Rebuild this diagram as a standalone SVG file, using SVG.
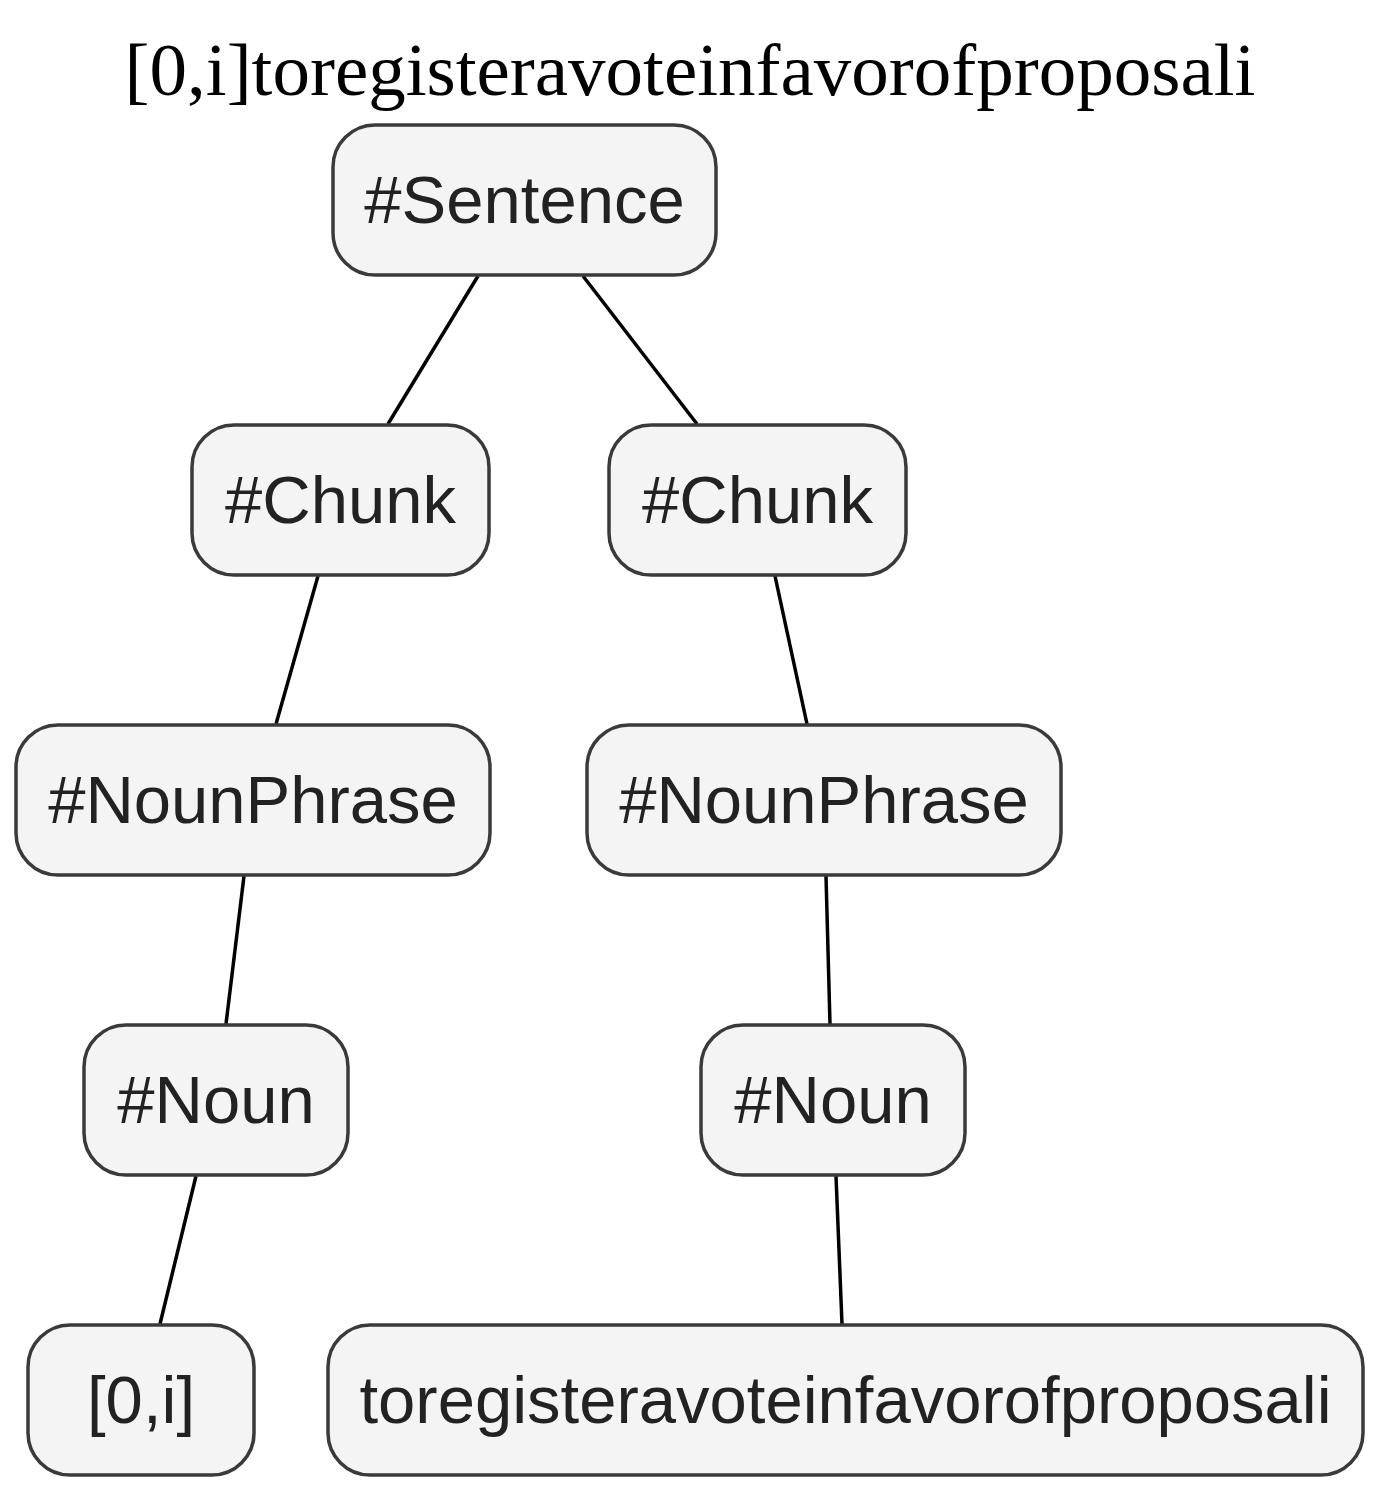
<svg xmlns="http://www.w3.org/2000/svg" width="1379" height="1492" viewBox="0 0 1379 1492">
<style>
.node rect{fill:#f4f4f4;stroke:#3a3a3a;stroke-width:3.5}
.node text{font-family:"Liberation Sans",Arial,sans-serif;font-size:67px;fill:#222;text-anchor:middle}
.edges line{stroke:#000;stroke-width:3.5}
.title{font-family:"Liberation Serif","Times New Roman",serif;font-size:75px;fill:#000;text-anchor:middle}
</style>
<rect width="1379" height="1492" fill="#fff"/>
<text class="title" x="690" y="95">[0,i]toregisteravoteinfavorofproposali</text>
<g class="edges">
<line x1="478" y1="276" x2="388" y2="424"/>
<line x1="583" y1="276" x2="697" y2="424"/>
<line x1="318" y1="576" x2="276" y2="724"/>
<line x1="775" y1="576" x2="807" y2="724"/>
<line x1="244" y1="876" x2="226" y2="1024"/>
<line x1="826" y1="876" x2="830" y2="1024"/>
<line x1="196" y1="1176" x2="160" y2="1324"/>
<line x1="836" y1="1176" x2="842" y2="1324"/>
</g>
<g id="sentence" class="node"><rect x="333" y="125" width="383" height="150" rx="42"/><text x="524.5" y="223">#Sentence</text></g>
<g id="chunk1" class="node"><rect x="192" y="425" width="297" height="150" rx="42"/><text x="340.5" y="523">#Chunk</text></g>
<g id="chunk2" class="node"><rect x="609" y="425" width="297" height="150" rx="42"/><text x="757.5" y="523">#Chunk</text></g>
<g id="np1" class="node"><rect x="16" y="725" width="474" height="150" rx="42"/><text x="253" y="823">#NounPhrase</text></g>
<g id="np2" class="node"><rect x="587" y="725" width="474" height="150" rx="42"/><text x="824" y="823">#NounPhrase</text></g>
<g id="noun1" class="node"><rect x="84" y="1025" width="264" height="150" rx="42"/><text x="216" y="1123">#Noun</text></g>
<g id="noun2" class="node"><rect x="701" y="1025" width="264" height="150" rx="42"/><text x="833" y="1123">#Noun</text></g>
<g id="leaf1" class="node"><rect x="28" y="1325" width="226" height="150" rx="42"/><text x="141" y="1423">[0,i]</text></g>
<g id="leaf2" class="node"><rect x="328" y="1325" width="1035" height="150" rx="42"/><text x="845.5" y="1423">toregisteravoteinfavorofproposali</text></g>
</svg>
